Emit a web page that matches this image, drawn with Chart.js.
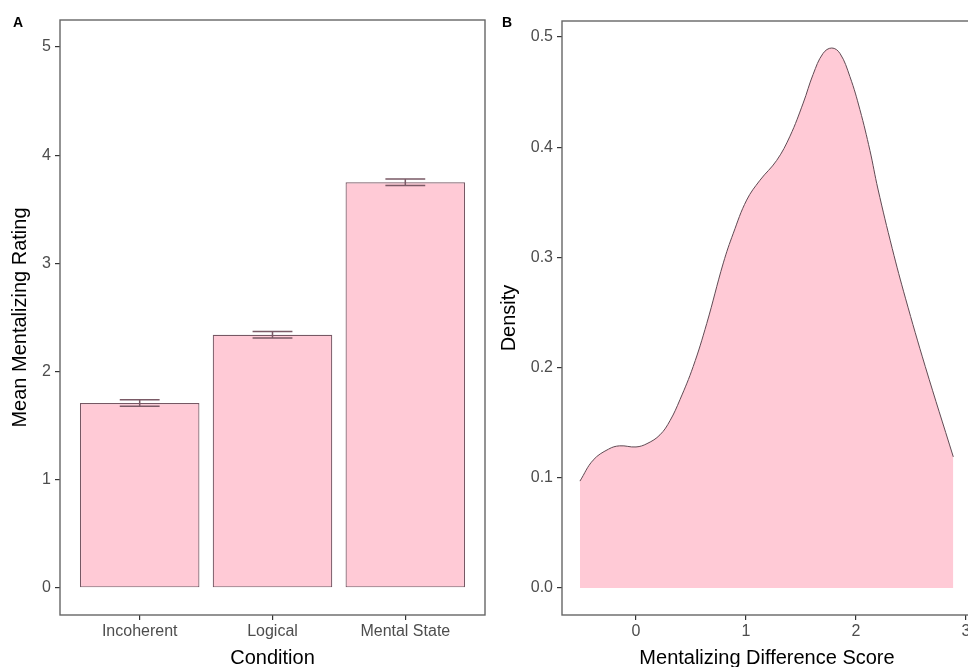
<!DOCTYPE html>
<html>
<head>
<meta charset="utf-8">
<script src="https://cdn.jsdelivr.net/npm/chart.js@4.4.1/dist/chart.umd.min.js"></script>
<style>
  html, body { margin: 0; padding: 0; background: #fff; overflow: hidden; }
  #wrap { position: relative; width: 968px; height: 667px; overflow: hidden; }
  canvas { position: absolute; top: 0; }
  #chartA { left: 0; }
  #chartB { left: 490px; }
  .tag { position: absolute; top: 15px; font: bold 14px "Liberation Sans", Arial, sans-serif; line-height: 14px; color: #000; }
</style>
</head>
<body>
<div id="wrap">
  <canvas id="chartA" width="490" height="680"></canvas>
  <canvas id="chartB" width="492" height="680"></canvas>
  <div class="tag" style="left:13px">A</div>
  <div class="tag" style="left:502px">B</div>
</div>
<script>
// panel A: mean rating per condition
const conditions = ["Incoherent", "Logical", "Mental State"];
const conditionPos = [1, 2, 3];
const meanRating = [1.71, 2.34, 3.75];
const seRating = [0.03, 0.03, 0.03];
const ratingTicks = [0, 1, 2, 3, 4, 5];

// panel B: density of difference score
const diffScore = [-0.51, -0.39, -0.25, -0.15, 0.0, 0.1, 0.218, 0.31, 0.40, 0.52, 0.643, 0.794, 0.885,
  1.006, 1.127, 1.279, 1.40, 1.52, 1.61, 1.70, 1.78, 1.855, 1.945, 2.036, 2.127, 2.20, 2.33,
  2.45, 2.63, 2.885];
const density = [0.097, 0.116, 0.126, 0.129, 0.128, 0.131, 0.139, 0.152, 0.171, 0.201, 0.240, 0.295, 0.322,
  0.352, 0.370, 0.388, 0.410, 0.440, 0.466, 0.485, 0.490, 0.485, 0.464, 0.434, 0.397, 0.362, 0.308,
  0.263, 0.201, 0.119];
const scoreTicks = [0, 1, 2, 3];
const densityTicks = [0, 0.1, 0.2, 0.3, 0.4, 0.5];

const PINK = "#ffcad6";
const FONT = "'Liberation Sans', Arial, sans-serif";
const TICK_COLOR = "#4d4d4d";

// box around the plot panel
const frame = {
  id: "frame",
  afterDraw(chart) {
    const { ctx, chartArea: a } = chart;
    ctx.save();
    ctx.strokeStyle = "#666";
    ctx.lineWidth = 1.4;
    ctx.strokeRect(a.left, a.top, a.right - a.left, a.bottom - a.top);
    ctx.restore();
  }
};

// error bars for panel A, placed through the scales
const errorBars = {
  id: "errorBars",
  afterDatasetsDraw(chart) {
    const { ctx, scales: { x, y } } = chart;
    ctx.save();
    ctx.strokeStyle = "#7a5a66";
    ctx.lineWidth = 1.5;
    conditionPos.forEach((pos, i) => {
      const cx = x.getPixelForValue(pos);
      const half = x.getPixelForValue(pos + 0.15) - cx;
      const lo = y.getPixelForValue(meanRating[i] - seRating[i]);
      const hi = y.getPixelForValue(meanRating[i] + seRating[i]);
      ctx.beginPath();
      ctx.moveTo(cx, lo); ctx.lineTo(cx, hi);
      ctx.moveTo(cx - half, lo); ctx.lineTo(cx + half, lo);
      ctx.moveTo(cx - half, hi); ctx.lineTo(cx + half, hi);
      ctx.stroke();
    });
    ctx.restore();
  }
};

function axisGrid() {
  return { display: true, offset: false, drawOnChartArea: false, drawTicks: true, tickLength: 5, color: "#333", lineWidth: 1.2 };
}

new Chart(document.getElementById("chartA"), {
  type: "bar",
  data: {
    datasets: [{
      data: conditionPos.map((x, i) => ({ x: x, y: meanRating[i] })),
      backgroundColor: PINK,
      borderColor: "#765864",
      borderWidth: 1.2,
      borderSkipped: false,
      barPercentage: 0.9,
      categoryPercentage: 1
    }]
  },
  options: {
    responsive: false,
    animation: false,
    layout: { padding: { top: 20, right: 5, left: 0, bottom: 0 } },
    plugins: { legend: { display: false }, tooltip: { enabled: false } },
    scales: {
      x: {
        type: "linear",
        offset: false,
        min: 0.4,
        max: 3.6,
        afterBuildTicks: s => { s.ticks = conditionPos.map(v => ({ value: v })); },
        afterFit: s => { s.height = 65; },
        grid: axisGrid(),
        border: { display: false },
        ticks: {
          callback: (v, i) => conditions[i],
          color: TICK_COLOR,
          padding: 2,
          maxRotation: 0,
          font: { family: FONT, size: 16 }
        },
        title: { display: true, text: "Condition", color: "#000", padding: { top: 0, bottom: 10 }, font: { family: FONT, size: 20 } }
      },
      y: {
        min: -0.25,
        max: 5.25,
        afterBuildTicks: s => { s.ticks = ratingTicks.map(v => ({ value: v })); },
        afterFit: s => { s.width = 60; },
        grid: axisGrid(),
        border: { display: false },
        ticks: { color: TICK_COLOR, padding: 4, font: { family: FONT, size: 16 } },
        title: { display: true, text: "Mean Mentalizing Rating", color: "#000", padding: { top: 8, bottom: 0 }, font: { family: FONT, size: 20 } }
      }
    }
  },
  plugins: [errorBars, frame]
});

new Chart(document.getElementById("chartB"), {
  type: "line",
  data: {
    datasets: [{
      data: diffScore.map((x, i) => ({ x: x, y: density[i] })),
      fill: "origin",
      backgroundColor: PINK,
      borderColor: "#5f4a53",
      borderWidth: 1,
      pointRadius: 0,
      tension: 0.4
    }]
  },
  options: {
    responsive: false,
    animation: false,
    layout: { padding: { top: 21, right: 10, left: 0, bottom: 0 } },
    plugins: { legend: { display: false }, tooltip: { enabled: false } },
    scales: {
      x: {
        type: "linear",
        min: -0.673,
        max: 3.055,
        afterBuildTicks: s => { s.ticks = scoreTicks.map(v => ({ value: v })); },
        afterFit: s => { s.height = 65; },
        grid: axisGrid(),
        border: { display: false },
        ticks: { color: TICK_COLOR, padding: 2, maxRotation: 0, font: { family: FONT, size: 16 } },
        title: { display: true, text: "Mentalizing Difference Score", color: "#000", padding: { top: 0, bottom: 10 }, font: { family: FONT, size: 20 } }
      },
      y: {
        min: -0.0245,
        max: 0.5145,
        afterBuildTicks: s => { s.ticks = densityTicks.map(v => ({ value: v })); },
        afterFit: s => { s.width = 72; },
        grid: axisGrid(),
        border: { display: false },
        ticks: { color: TICK_COLOR, padding: 4, callback: v => v.toFixed(1), font: { family: FONT, size: 16 } },
        title: { display: true, text: "Density", color: "#000", padding: { top: 7, bottom: 0 }, font: { family: FONT, size: 20 } }
      }
    }
  },
  plugins: [frame]
});
</script>
</body>
</html>
